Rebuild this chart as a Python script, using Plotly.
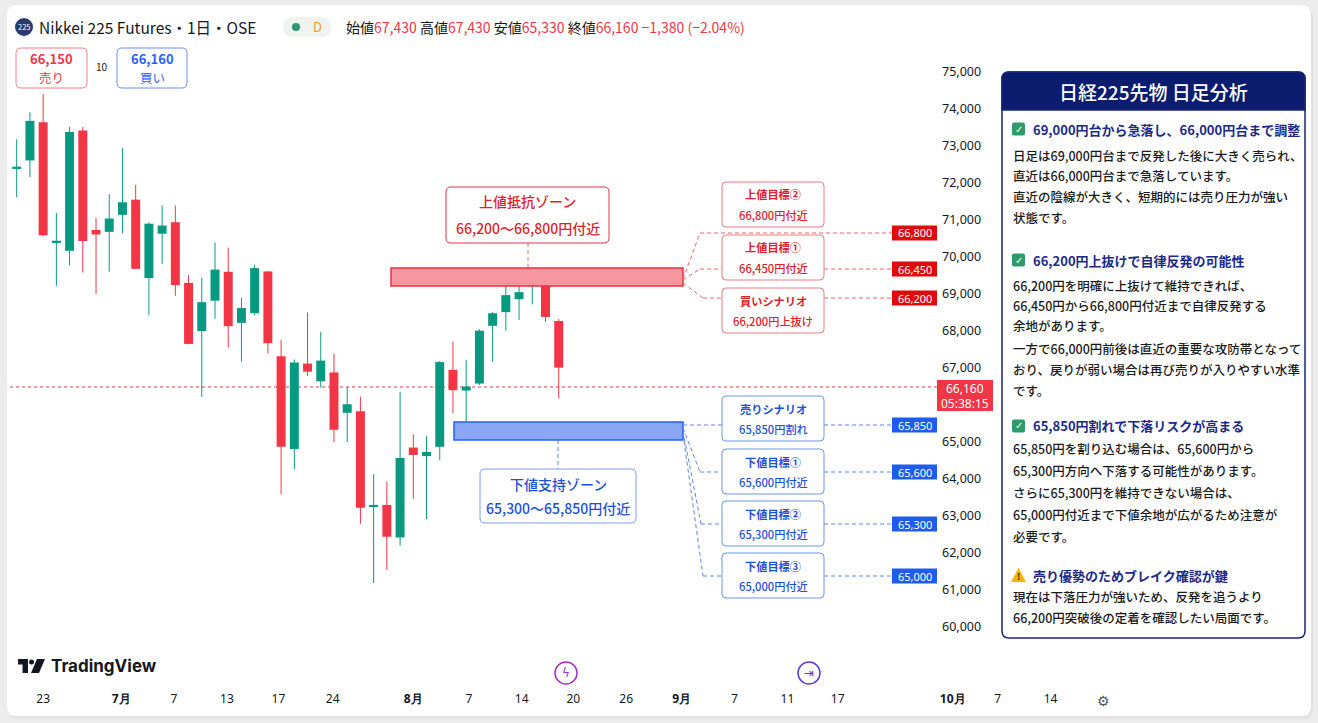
import plotly.graph_objects as go

# ---------------- data ----------------
OPEN = [72380, 72610, 73640, 70400, 70170, 73420, 70730, 70680, 71140, 71550,
        69430, 70630, 70940, 69300, 68000, 68820, 69600, 68220, 68480, 69610,
        67320, 64810, 67120, 66640, 66880, 65790, 65830, 63260, 63300, 62420,
        64850, 64620, 64870, 66950, 66390, 66580, 68140, 68510, 68860, 69300,
        69450, 68270]
HIGH = [73180, 73910, 74400, 71190, 73520, 73510, 71060, 71700, 72950, 71950,
        70940, 71400, 71390, 69510, 69440, 70390, 70250, 68900, 69790, 69620,
        67760, 67230, 68500, 67970, 67390, 66490, 66220, 64130, 63930, 66360,
        65210, 65160, 67190, 67710, 67220, 68050, 68520, 69250, 69300, 69650,
        69650, 68320]
LOW = [71610, 72160, 70560, 69220, 69770, 69580, 69000, 69600, 70640, 69670,
       68420, 69810, 68950, 67640, 66220, 68330, 67550, 67170, 68420, 67390,
       63590, 64260, 66790, 66470, 65000, 65000, 62790, 61190, 61540, 62200,
       63460, 62920, 64510, 65780, 65550, 66540, 67170, 68010, 68300, 68720,
       68250, 66180]
CLOSE = [72440, 73680, 70590, 70440, 73380, 70430, 70610, 71040, 71480, 69680,
         70900, 70850, 69240, 67650, 68780, 69660, 68130, 68620, 69700, 67670,
         64870, 67150, 66900, 67200, 65330, 66020, 63220, 63300, 62440, 64570,
         64650, 64730, 67160, 66400, 66500, 68010, 68480, 68970, 69050, 69500,
         68380, 67010]

X_TICK_LABELS = ["23", "<b>7月</b>", "7", "13", "17", "24", "<b>8月</b>", "7", "14", "20",
                 "26", "<b>9月</b>", "7", "11", "17", "<b>10月</b>", "7", "14"]
X_TICK_POS = [2.0, 7.9, 11.9, 15.9, 19.8, 23.9, 30.0, 34.2, 38.2, 42.1,
              46.1, 50.3, 54.3, 58.3, 62.1, 70.8, 74.2, 78.2]
# 66,000 sits under the last-price label in the reference, so it is not shown
Y_TICKS = [60000, 61000, 62000, 63000, 64000, 65000, 67000,
           68000, 69000, 70000, 71000, 72000, 73000, 74000, 75000]

HDR_OPEN, HDR_HIGH, HDR_LOW, HDR_CLOSE = "67,430", "67,430", "65,330", "66,160"
HDR_CHG, HDR_PCT = "−1,380", "(−2.04%)"
SELL_PRICE, BUY_PRICE, SPREAD = "66,150", "66,160", "10"
LAST_PRICE, COUNTDOWN = "66,160", "05:38:15"

RES_ZONE_TITLE, RES_ZONE_RANGE = "上値抵抗ゾーン", "66,200〜66,800円付近"
SUP_ZONE_TITLE, SUP_ZONE_RANGE = "下値支持ゾーン", "65,300〜65,850円付近"
UP_TITLES = ["上値目標②", "上値目標①", "買いシナリオ"]
UP_SUBS = ["66,800円付近", "66,450円付近", "66,200円上抜け"]
UP_TAGS = ["66,800", "66,450", "66,200"]
DN_TITLES = ["売りシナリオ", "下値目標①", "下値目標②", "下値目標③"]
DN_SUBS = ["65,850円割れ", "65,600円付近", "65,300円付近", "65,000円付近"]
DN_TAGS = ["65,850", "65,600", "65,300", "65,000"]

PANEL_TITLE = "日経225先物 日足分析"
SECTIONS = [
    ("check", "69,000円台から急落し、66,000円台まで調整",
     ["日足は69,000円台まで反発した後に大きく売られ、",
      "直近は66,000円台まで急落しています。",
      "直近の陰線が大きく、短期的には売り圧力が強い",
      "状態です。"]),
    ("check", "66,200円上抜けで自律反発の可能性",
     ["66,200円を明確に上抜けて維持できれば、",
      "66,450円から66,800円付近まで自律反発する",
      "余地があります。",
      "一方で66,000円前後は直近の重要な攻防帯となって",
      "おり、戻りが弱い場合は再び売りが入りやすい水準",
      "です。"]),
    ("check", "65,850円割れで下落リスクが高まる",
     ["65,850円を割り込む場合は、65,600円から",
      "65,300円方向へ下落する可能性があります。",
      "さらに65,300円を維持できない場合は、",
      "65,000円付近まで下値余地が広がるため注意が",
      "必要です。"]),
    ("warn", "売り優勢のためブレイク確認が鍵",
     ["現在は下落圧力が強いため、反発を追うより",
      "66,200円突破後の定着を確認したい局面です。"]),
]

# ---------------- layout geometry ----------------
FW, FH = 1318, 723
ML, MT, MR, MB = 10, 40, 8, 33
PW = FW - ML - MR
PH = FH - MT - MB
BAR0_PX, BAR_PX = 16.7, 13.22          # pixel of bar 0, pixels per bar
Y_REF_PX, Y_REF_VAL, PX_PER_K = 72, 75000, 37.0

def px(x):
    return (x - ML) / PW

def py(y):
    return 1 - (y - MT) / PH

x_range = [(ML - BAR0_PX) / BAR_PX, (ML + PW - BAR0_PX) / BAR_PX]
y_range = [Y_REF_VAL - (MT + PH - Y_REF_PX) / PX_PER_K * 1000,
           Y_REF_VAL + (Y_REF_PX - MT) / PX_PER_K * 1000]

FONT = "Noto Sans CJK JP, Noto Sans, sans-serif"
RED = "#F23645"
GREEN = "#089981"
NAVY = "#1B237A"
DASH = "4px,3px"

shapes = []
annos = []

def rrect_path(x0, y0, x1, y1, r, top_only=False):
    X, Y = px, py
    if top_only:
        return (f"M {X(x0)},{Y(y1)} L {X(x0)},{Y(y0+r)} Q {X(x0)},{Y(y0)} {X(x0+r)},{Y(y0)} "
                f"L {X(x1-r)},{Y(y0)} Q {X(x1)},{Y(y0)} {X(x1)},{Y(y0+r)} L {X(x1)},{Y(y1)} Z")
    return (f"M {X(x0+r)},{Y(y0)} L {X(x1-r)},{Y(y0)} Q {X(x1)},{Y(y0)} {X(x1)},{Y(y0+r)} "
            f"L {X(x1)},{Y(y1-r)} Q {X(x1)},{Y(y1)} {X(x1-r)},{Y(y1)} "
            f"L {X(x0+r)},{Y(y1)} Q {X(x0)},{Y(y1)} {X(x0)},{Y(y1-r)} "
            f"L {X(x0)},{Y(y0+r)} Q {X(x0)},{Y(y0)} {X(x0+r)},{Y(y0)} Z")

def rbox(x0, y0, x1, y1, r, fill, line, lw=1, layer="above", top_only=False):
    shapes.append(dict(type="path", path=rrect_path(x0, y0, x1, y1, r, top_only),
                       xref="paper", yref="paper", fillcolor=fill,
                       line=dict(color=line, width=lw if line else 0), layer=layer))

def rect(x0, y0, x1, y1, fill, line=None, lw=1, layer="above"):
    shapes.append(dict(type="rect", xref="paper", yref="paper",
                       x0=px(x0), x1=px(x1), y0=py(y1), y1=py(y0),
                       fillcolor=fill, line=dict(color=line or fill, width=lw if line else 0),
                       layer=layer))

def seg(pts, color, dash=DASH, width=1, layer="above"):
    for (xa, ya), (xb, yb) in zip(pts[:-1], pts[1:]):
        shapes.append(dict(type="line", xref="paper", yref="paper",
                           x0=px(xa), y0=py(ya), x1=px(xb), y1=py(yb),
                           line=dict(color=color, width=width, dash=dash), layer=layer))

def txt(x, y, s, size, color, xanchor="center", family=FONT, weight="normal"):
    annos.append(dict(x=px(x), y=py(y), xref="paper", yref="paper", text=s,
                      showarrow=False, xanchor=xanchor, yanchor="middle",
                      font=dict(size=size, color=color, family=family, weight=weight),
                      borderpad=0))

# card background
rbox(9, 8, 1313, 719, 10, "#e2e2e2", None, layer="below")
rbox(7, 5, 1311, 716, 10, "#ffffff", None, layer="below")

# ---------------- header ----------------
shapes.append(dict(type="circle", xref="paper", yref="paper",
                   x0=px(15), x1=px(33), y0=py(36), y1=py(18),
                   fillcolor="#2a3b6e", line=dict(width=0)))
txt(24, 27, "225", 7.5, "#ffffff")
txt(38, 27, "Nikkei 225 Futures・1日・OSE", 15.5, "#131722", xanchor="left")
rbox(283, 17, 331, 37, 10, "#eef3ef", None)
shapes.append(dict(type="circle", xref="paper", yref="paper",
                   x0=px(292), x1=px(300), y0=py(31), y1=py(23),
                   fillcolor="#2a9c6f", line=dict(width=0)))
txt(317, 27, "D", 13, "#f29c1f")
hdr = (f"始値<span style='color:{RED}'>{HDR_OPEN}</span> 高値<span style='color:{RED}'>{HDR_HIGH}</span> "
       f"安値<span style='color:{RED}'>{HDR_LOW}</span> 終値<span style='color:{RED}'>{HDR_CLOSE}</span> "
       f"<span style='color:{RED}'>{HDR_CHG} {HDR_PCT}</span>")
txt(345, 27, hdr, 14, "#131722", xanchor="left")

rbox(16, 48, 87, 88, 5, "#ffffff", "#F57C86", 1)
txt(51.5, 58.5, f"<b>{SELL_PRICE}</b>", 13, RED)
txt(51.5, 77.5, "売り", 12.5, RED)
txt(102, 67, SPREAD, 10, "#131722")
rbox(117, 48, 187, 88, 5, "#ffffff", "#6a8ff0", 1)
txt(152, 58.5, f"<b>{BUY_PRICE}</b>", 13, "#2962FF")
txt(152, 77.5, "買い", 12.5, "#2962FF")

# ---------------- current price line ----------------
seg([(10, 387), (937, 387)], RED, dash="dot", width=1, layer="below")
rect(937, 380, 993, 411, RED)
txt(965, 388.5, LAST_PRICE, 12, "#ffffff", family="Noto Sans")
txt(965, 403, COUNTDOWN, 12, "#ffffff", family="Noto Sans")

# ---------------- zones ----------------
ZRED_FILL, ZRED_LINE = "#F6979F", "#E8323F"
ZBLU_FILL, ZBLU_LINE = "#8AA6F5", "#2B62F0"
seg([(528, 243), (528, 268)], "#EF6B73")
rect(391, 268, 683, 286, ZRED_FILL, ZRED_LINE, 1.5)
rbox(446, 187, 609, 243, 5, "#ffffff", "#E8323F", 1)
txt(527.5, 201, RES_ZONE_TITLE, 14, "#E01F2B", weight=500)
txt(527.5, 228, RES_ZONE_RANGE, 14, "#E01F2B", weight=500)

seg([(558, 440), (558, 469)], "#5b86f0")
rect(454, 422, 683, 440, ZBLU_FILL, ZBLU_LINE, 1.5)
rbox(480, 469, 636, 523, 5, "#ffffff", "#7c9cf0", 1)
txt(558, 484, SUP_ZONE_TITLE, 14, "#1E50D8", weight=500)
txt(558, 508, SUP_ZONE_RANGE, 14, "#1E50D8", weight=500)

# ---------------- scenario boxes / fan lines ----------------
RLINE = "#F0626B"
BLINE = "#5B84EE"
up_box_tops = [182, 235, 288]
up_tag_y = [233, 269, 298]
up_start_y = [279, 280, 283]
up_bend_x = [700, 700, 703]
for i in range(3):
    yy = up_tag_y[i]
    if i == 0:
        seg([(683, up_start_y[i]), (up_bend_x[i], yy), (892, yy)], RLINE)
    else:
        seg([(683, up_start_y[i]), (up_bend_x[i], yy), (722, yy)], RLINE)
        seg([(824, yy), (892, yy)], RLINE)
for i in range(3):
    t = up_box_tops[i]
    rbox(722, t, 824, t + 45, 4, "#ffffff", "#F07A82", 1)
    txt(773, t + 12.5, UP_TITLES[i], 11.2, "#E0202C", weight=600)
    txt(773, t + 33, UP_SUBS[i], 11.2, "#E0202C", weight=500)
    yy = up_tag_y[i]
    rect(892, yy - 7.5, 937, yy + 7.5, "#E00A0A")
    txt(914.5, yy, UP_TAGS[i], 11, "#ffffff", family="Noto Sans")

dn_box_tops = [396, 449, 501, 553]
dn_tag_y = [425, 472, 524, 576]
dn_start_y = [425, 428, 431, 434]
dn_bend_x = [683, 700, 701, 703]
for i in range(4):
    yy = dn_tag_y[i]
    seg([(683, dn_start_y[i]), (dn_bend_x[i], yy), (722, yy)], BLINE)
    seg([(824, yy), (892, yy)], BLINE)
for i in range(4):
    t = dn_box_tops[i]
    rbox(722, t, 824, t + 45, 4, "#ffffff", "#6f93f0", 1)
    txt(773, t + 12.5, DN_TITLES[i], 11.2, "#1E50D8", weight=600)
    txt(773, t + 33, DN_SUBS[i], 11.2, "#1E50D8", weight=500)
    yy = dn_tag_y[i]
    rect(892, yy - 7.5, 937, yy + 7.5, "#1D5CEF")
    txt(914.5, yy, DN_TAGS[i], 11, "#ffffff", family="Noto Sans")

# ---------------- right analysis panel ----------------
rbox(1002, 72, 1305, 638, 7, "#ffffff", NAVY, 1.5)
rbox(1002, 72, 1305, 110, 7, "#0B1C6E", NAVY, 1.5, top_only=True)
txt(1153.5, 91, PANEL_TITLE, 19, "#ffffff", weight=500)

head_y = [129, 260, 426, 575]
line_y = [[155, 175, 196, 217],
          [285, 305, 326, 348, 369, 390],
          [448, 470, 492, 514, 536],
          [596, 617]]
for (kind, head, lines), hy, ly in zip(SECTIONS, head_y, line_y):
    if kind == "check":
        rbox(1012, hy - 6.5, 1025, hy + 6.5, 2, "#2E9C6A", None)
        txt(1018.5, hy, "<b>✓</b>", 10, "#ffffff", family="DejaVu Sans")
    else:
        shapes.append(dict(type="path", xref="paper", yref="paper",
                           path=f"M {px(1011)},{py(hy+7)} L {px(1026)},{py(hy+7)} L {px(1018.5)},{py(hy-7)} Z",
                           fillcolor="#F5B400", line=dict(width=0)))
        txt(1018.5, hy + 1.5, "<b>!</b>", 9, "#3a2a00")
    txt(1032, hy, f"<b>{head}</b>", 13, "#1B2A8A", xanchor="left")
    for s, yy in zip(lines, ly):
        txt(1012, yy, s, 12.5, "#1a1a1a", xanchor="left", weight=500)

# ---------------- bottom decorations ----------------
rect(18, 659, 28, 664.5, "#131722")
rect(22.5, 659, 28, 673, "#131722")
shapes.append(dict(type="circle", xref="paper", yref="paper",
                   x0=px(29), x1=px(34), y0=py(664.5), y1=py(659.5),
                   fillcolor="#131722", line=dict(width=0)))
shapes.append(dict(type="path", xref="paper", yref="paper",
                   path=f"M {px(37)},{py(659)} L {px(45)},{py(659)} L {px(39)},{py(673)} L {px(31)},{py(673)} Z",
                   fillcolor="#131722", line=dict(width=0)))
txt(50, 666, "<b>TradingView</b>", 17, "#131722", xanchor="left", family="Inter, Noto Sans")

for cx, col, glyph in [(566, "#A230C8", "ϟ"), (809, "#6236E0", "⇥")]:
    shapes.append(dict(type="circle", xref="paper", yref="paper",
                       x0=px(cx - 11), x1=px(cx + 11), y0=py(684), y1=py(662),
                       fillcolor="#ffffff", line=dict(color=col, width=1.5)))
    txt(cx, 673, glyph, 12, col, family="DejaVu Sans")
txt(1103, 701, "⚙", 14, "#50535e", family="DejaVu Sans")

# ---------------- candles ----------------
idx = list(range(len(OPEN)))
up = [c >= o for o, c in zip(OPEN, CLOSE)]

fig = go.Figure()
for is_up, col in [(True, GREEN), (False, RED)]:
    wx, wy = [], []
    for i in idx:
        if up[i] == is_up:
            wx += [i, i, None]
            wy += [LOW[i], HIGH[i], None]
    fig.add_trace(go.Scatter(x=wx, y=wy, mode="lines", line=dict(color=col, width=1),
                             hoverinfo="skip", showlegend=False))
fig.add_trace(go.Bar(
    x=idx,
    base=[min(o, c) for o, c in zip(OPEN, CLOSE)],
    y=[abs(c - o) for o, c in zip(OPEN, CLOSE)],
    width=0.68,
    marker=dict(color=[GREEN if u else RED for u in up], line=dict(width=0)),
    hoverinfo="skip", showlegend=False))

fig.update_layout(
    width=FW, height=FH,
    margin=dict(l=ML, r=MR, t=MT, b=MB),
    paper_bgcolor="#ececec", plot_bgcolor="rgba(0,0,0,0)",
    showlegend=False, hovermode=False,
    font=dict(family=FONT, color="#131722"),
    xaxis=dict(range=x_range, tickmode="array", tickvals=X_TICK_POS, ticktext=X_TICK_LABELS,
               showgrid=False, zeroline=False, showline=False, ticks="",
               tickfont=dict(size=12, color="#131722", family="Noto Sans"), fixedrange=True),
    yaxis=dict(range=y_range, tickmode="array", tickvals=Y_TICKS,
               ticktext=[f"{v:,}" for v in Y_TICKS],
               side="right", anchor="free", position=px(941),
               showgrid=False, zeroline=False, showline=False, ticks="",
               tickfont=dict(size=12.5, color="#131722", family="Noto Sans"), fixedrange=True),
    shapes=shapes, annotations=annos,
)

fig.write_html("out.html", config={"displayModeBar": False},
               post_script="document.body.style.margin='0';document.body.style.overflow='hidden';")
